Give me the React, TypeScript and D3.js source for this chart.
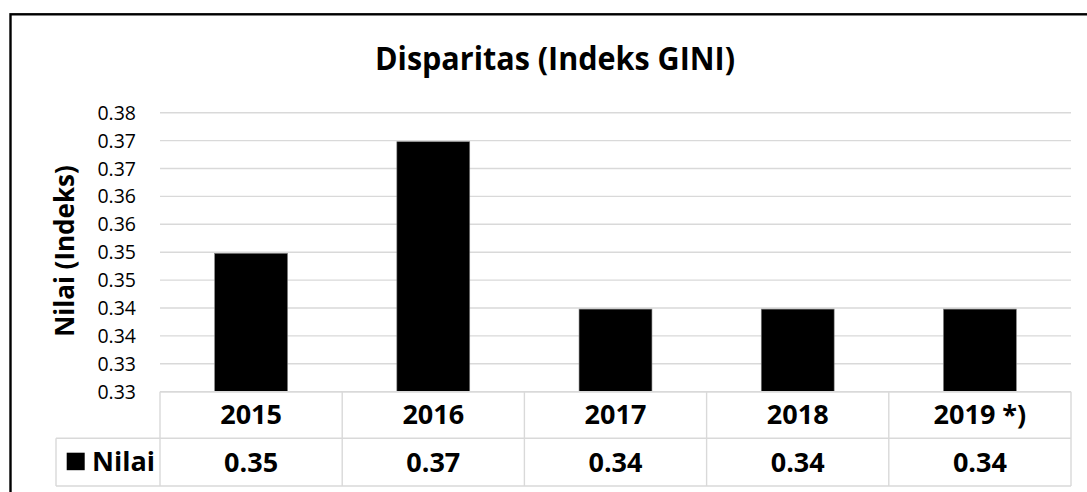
import React from 'react';
import { scaleBand, scaleLinear } from 'd3';

// data
const categories = ['2015', '2016', '2017', '2018', '2019 *)'];
const values = [0.3548, 0.3748, 0.3448, 0.3448, 0.3448];
const yTickValues = [0.33, 0.335, 0.34, 0.345, 0.35, 0.355, 0.36, 0.365, 0.37, 0.375, 0.38];
const yTickLabels = ['0.33', '0.33', '0.34', '0.34', '0.35', '0.35', '0.36', '0.36', '0.37', '0.37', '0.38'];
const seriesName = 'Nilai';
const title = 'Disparitas (Indeks GINI)';
const yTitle = 'Nilai (Indeks)';

const W = 1087;
const H = 492;
const font = '"Open Sans", "Noto Sans", sans-serif';
const grid = '#d9d9d9';

export default function App() {
  const left = 160;
  const right = 1071;
  const top = 112.7;
  const base = 391.7;
  const headerBottom = 438.2;
  const tableBottom = 486;
  const legendLeft = 56;

  const y = scaleLinear().domain([0.33, 0.38]).range([base, top]);
  const bars = scaleBand().domain(categories).range([left, right]).paddingInner(0.6).paddingOuter(0.3);
  const cols = scaleBand().domain(categories).range([left, right]);

  return (
    <svg width={W} height={H} style={{ position: 'fixed', left: 0, top: 0, background: '#fff' }}>
      <rect x={0} y={0} width={W} height={H} fill="#fff" />
      <rect x={10.5} y={14.3} width={1200} height={600} fill="none" stroke="#000" strokeWidth={2.4} />

      <text
        x={375}
        y={69.5}
        textLength={360}
        lengthAdjust="spacingAndGlyphs"
        fontFamily={font}
        fontWeight="bold"
        fontSize={33}
        fill="#000"
      >
        {title}
      </text>

      {/* gridlines */}
      {yTickValues.map((t, i) => (
        <line key={'g' + i} x1={left} x2={right} y1={y(t)} y2={y(t)} stroke={grid} strokeWidth={1.4} />
      ))}

      {/* y tick labels */}
      {yTickValues.map((t, i) => (
        <text key={'t' + i} x={136} y={y(t) + 7} textAnchor="end" fontFamily={font} fontSize={19.5} fill="#000">
          {yTickLabels[i]}
        </text>
      ))}

      <text
        transform={`translate(73.5,251) rotate(-90)`}
        textAnchor="middle"
        fontFamily={font}
        fontWeight="bold"
        fontSize={26}
        fill="#000"
      >
        {yTitle}
      </text>

      {/* bars */}
      {categories.map((c, i) => (
        <rect
          key={'b' + i}
          x={bars(c)}
          y={y(values[i])}
          width={bars.bandwidth()}
          height={base - y(values[i])}
          fill="#000"
          stroke="#7f7f7f"
          strokeWidth={0.6}
        />
      ))}

      {/* data table */}
      <g stroke={grid} strokeWidth={1.4} fill="none">
        <line x1={left} x2={right} y1={base} y2={base} />
        <line x1={legendLeft} x2={right} y1={headerBottom} y2={headerBottom} />
        <line x1={legendLeft} x2={right} y1={tableBottom} y2={tableBottom} />
        <line x1={legendLeft} x2={legendLeft} y1={headerBottom} y2={tableBottom} />
        {categories.map((c, i) => (
          <line key={'v' + i} x1={cols(c)} x2={cols(c)} y1={base} y2={tableBottom} />
        ))}
        <line x1={right} x2={right} y1={base} y2={tableBottom} />
      </g>

      {categories.map((c, i) => (
        <g key={'c' + i} fontFamily={font} fontWeight="bold" fontSize={27} fill="#000" textAnchor="middle">
          <text x={cols(c)! + cols.bandwidth() / 2} y={424}>{c}</text>
          <text x={cols(c)! + cols.bandwidth() / 2} y={471.5}>{values[i].toFixed(2)}</text>
        </g>
      ))}

      <rect x={66.7} y={452.7} width={18} height={17.5} fill="#000" />
      <text x={92} y={471} fontFamily={font} fontWeight="bold" fontSize={27} fill="#000">
        {seriesName}
      </text>
    </svg>
  );
}
